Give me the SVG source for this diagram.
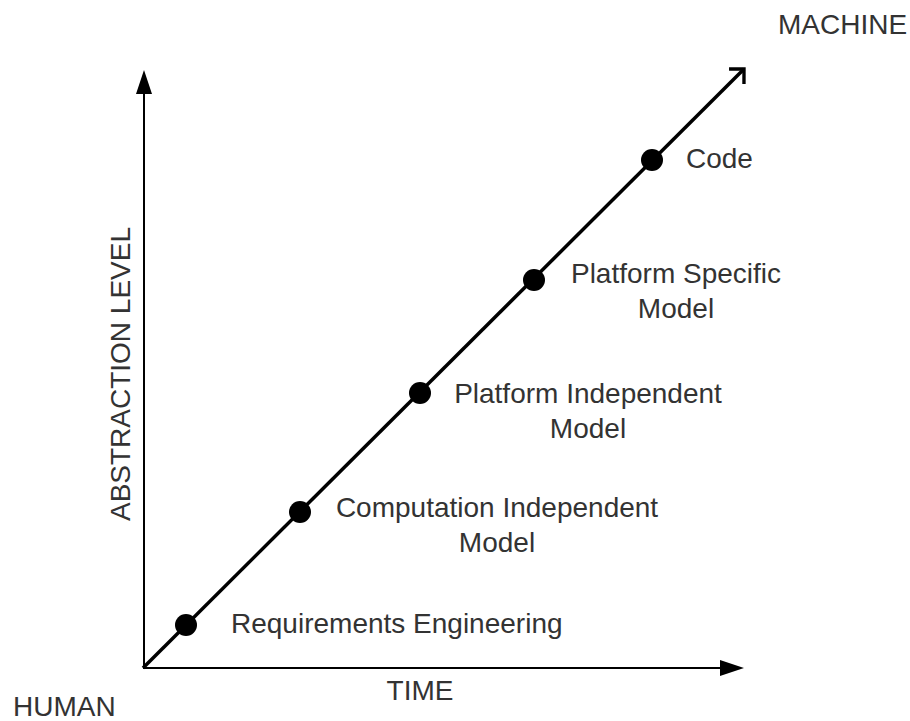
<svg xmlns="http://www.w3.org/2000/svg" width="910" height="721" viewBox="0 0 910 721">
<style>
text{font-family:"Liberation Sans",Arial,sans-serif;font-size:28px;fill:#333}
.axis{stroke:#000;stroke-width:2;fill:none}
.diag{stroke:#000;stroke-width:3.5;fill:none}
.dot{fill:#000}
</style>
<defs>
<marker id="tri" markerUnits="userSpaceOnUse" markerWidth="24" markerHeight="16" viewBox="0 0 24 16" refX="0" refY="8" orient="auto" overflow="visible">
<path d="M0,0 L24,8 L0,16 z" fill="#000"/>
</marker>
<marker id="chev" markerUnits="userSpaceOnUse" markerWidth="30" markerHeight="30" viewBox="-20 -20 30 40" refX="0" refY="0" orient="auto" overflow="visible">
<path d="M-14.1,-14.1 L0,0 L-14.1,14.1" fill="none" stroke="#000" stroke-width="4.5" stroke-linejoin="miter"/>
</marker>
</defs>
<rect width="910" height="721" fill="#fff"/>
<g id="connectors">
<line class="axis" x1="144" y1="669" x2="144" y2="94" marker-end="url(#tri)"/>
<line class="axis" x1="143" y1="668" x2="720" y2="668" marker-end="url(#tri)"/>
<line class="diag" x1="143" y1="668" x2="744" y2="69" marker-end="url(#chev)"/>
</g>
<g id="axis-labels">
<text id="machine" x="778" y="34">MACHINE</text>
<text id="human" x="13" y="716">HUMAN</text>
<text id="time" x="420" y="700" text-anchor="middle">TIME</text>
<text id="abstraction" x="0" y="0" text-anchor="middle" transform="translate(130,374) rotate(-90)">ABSTRACTION LEVEL</text>
</g>
<g id="requirements">
<circle class="dot" cx="186" cy="625" r="11"/>
<text x="231" y="633">Requirements Engineering</text>
</g>
<g id="cim">
<circle class="dot" cx="300" cy="512" r="11"/>
<text x="497" y="517" text-anchor="middle">Computation Independent</text>
<text x="497" y="552" text-anchor="middle">Model</text>
</g>
<g id="pim">
<circle class="dot" cx="420" cy="393" r="11"/>
<text x="588" y="403" text-anchor="middle">Platform Independent</text>
<text x="588" y="438" text-anchor="middle">Model</text>
</g>
<g id="psm">
<circle class="dot" cx="534" cy="280" r="11"/>
<text x="676" y="283" text-anchor="middle">Platform Specific</text>
<text x="676" y="318" text-anchor="middle">Model</text>
</g>
<g id="code">
<circle class="dot" cx="652" cy="160" r="11"/>
<text x="686" y="168">Code</text>
</g>
</svg>
